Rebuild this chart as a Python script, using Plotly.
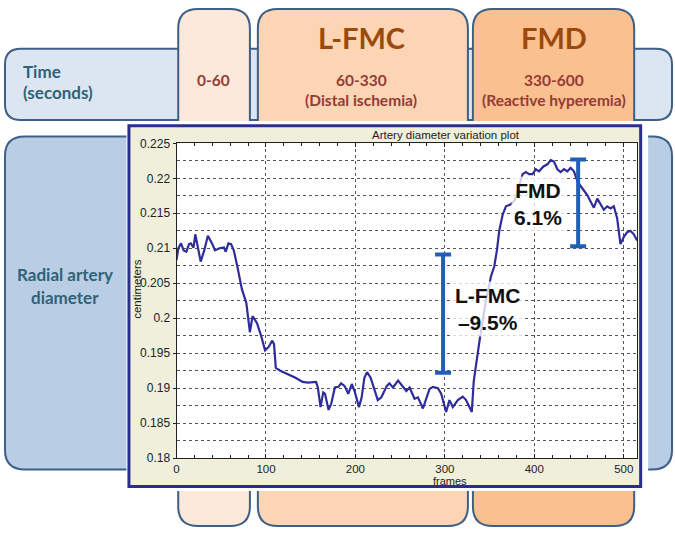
import plotly.graph_objects as go

W, H = 675, 535

# ---------------- data ----------------
frames = [0, 2, 5, 8, 11, 14, 16, 19, 21, 24, 27, 31, 35, 40, 43, 48, 53, 55, 58, 61,
          64, 68, 73, 78, 80, 82, 85, 90, 95, 99, 103, 107, 109, 111, 116, 125, 133, 141,
          147, 156, 158, 161, 164, 166, 170, 173, 177, 181, 184, 188, 192, 196, 199, 204,
          207, 210, 213, 217, 222, 225, 229, 235, 238, 242, 247.7, 253.2, 256.9, 260.6,
          266.1, 269.9, 275.5, 279.2, 282.9, 286.6, 292.2, 295.9, 298.9, 301.4, 305.1,
          308.9, 314.5, 320, 323.7, 327.4, 330.1, 332.3, 334.9, 337.4, 339.6, 342.3, 346,
          347.9, 351.6, 355.2, 358.2, 360.8, 364.6, 368.3, 373.8, 378.3, 383.1, 386.9,
          390.5, 394.2, 398, 401.7, 405.3, 410.2, 414.7, 418.4, 422, 425.8, 429.5, 433.2,
          437, 440.6, 444.3, 448.1, 451.8, 455.4, 459.2, 462.9, 466.6, 470.4, 474, 477.7,
          481.5, 485.2, 488.9, 492.6, 496.3, 500, 503.8, 507.5, 511.2, 515]
diameter_cm = [0.2083, 0.2100, 0.2107, 0.2097, 0.2095, 0.2106, 0.2107, 0.2101, 0.2120,
               0.2100, 0.2081, 0.2097, 0.2118, 0.2106, 0.2097, 0.2100, 0.2101, 0.2095,
               0.2107, 0.2106, 0.2097, 0.2074, 0.2042, 0.2022, 0.2003, 0.1980, 0.2003,
               0.1993, 0.1973, 0.1954, 0.1959, 0.1968, 0.1963, 0.1929, 0.1925, 0.1920,
               0.1915, 0.1909, 0.1908, 0.1909, 0.1901, 0.1873, 0.1894, 0.1892, 0.1869,
               0.1878, 0.1901, 0.1902, 0.1907, 0.1903, 0.1892, 0.1906, 0.1896, 0.1873,
               0.1887, 0.1915, 0.1923, 0.1915, 0.1896, 0.1883, 0.1887, 0.1903, 0.1907,
               0.1901, 0.1911, 0.1903, 0.1896, 0.1901, 0.1885, 0.1887, 0.1871, 0.1885,
               0.1899, 0.1902, 0.1900, 0.1892, 0.1878, 0.1866, 0.1883, 0.1873, 0.1883,
               0.1888, 0.1883, 0.1873, 0.1866, 0.1910, 0.1938, 0.1956, 0.1975, 0.1998,
               0.2026, 0.2037, 0.2060, 0.2074, 0.2097, 0.2125, 0.2148, 0.2160, 0.2163,
               0.2169, 0.2189, 0.2206, 0.2209, 0.2206, 0.2206, 0.2213, 0.2210, 0.2217,
               0.2220, 0.2226, 0.2224, 0.2213, 0.2209, 0.2213, 0.2210, 0.2215, 0.2210,
               0.2196, 0.2189, 0.2183, 0.2176, 0.2167, 0.2158, 0.2171, 0.2162, 0.2155,
               0.2160, 0.2157, 0.2160, 0.2143, 0.2106, 0.2116, 0.2123, 0.2125, 0.2120,
               0.2111]

x_tick_vals = [0, 100, 200, 300, 400, 500]
x_tick_text = ["0", "100", "200", "300", "400", "500"]
y_tick_vals = [0.18, 0.185, 0.19, 0.195, 0.2, 0.205, 0.21, 0.215, 0.22, 0.225]
y_tick_text = ["0.18", "0.185", "0.19", "0.195", "0.2", "0.205", "0.21", "0.215", "0.22", "0.225"]

bar_frames = [298, 449]
bar_low = [0.1922, 0.2103]
bar_high = [0.2091, 0.2227]
bar_labels = ["L-FMC<br>\u20139.5%", "FMD<br>6.1%"]
label_frames = [348, 404]
label_diam = [0.2013, 0.2163]

phase_titles = ["", "L-FMC", "FMD"]
phase_times = ["0-60", "60-330", "330-600"]
phase_notes = ["", "(Distal ischemia)", "(Reactive hyperemia)"]

# ---------------- helpers ----------------
def X(px):
    return px / W

def Y(py):
    return 1 - py / H

def rr_path(x0, y0, x1, y1, r):
    pts = [
        ("M", [(x0 + r, y0)]), ("L", [(x1 - r, y0)]), ("Q", [(x1, y0), (x1, y0 + r)]),
        ("L", [(x1, y1 - r)]), ("Q", [(x1, y1), (x1 - r, y1)]), ("L", [(x0 + r, y1)]),
        ("Q", [(x0, y1), (x0, y1 - r)]), ("L", [(x0, y0 + r)]), ("Q", [(x0, y0), (x0 + r, y0)]),
    ]
    s = ""
    for cmd, ps in pts:
        s += cmd + " " + " ".join(f"{X(a):.5f},{Y(b):.5f}" for a, b in ps) + " "
    return s + "Z"

BORDER = "#3e5f88"
shapes = []
def add_rr(x0, y0, x1, y1, r, fill):
    shapes.append(dict(type="path", xref="paper", yref="paper", layer="below",
                       path=rr_path(x0, y0, x1, y1, r), fillcolor=fill,
                       line=dict(color=BORDER, width=2)))

# background boxes
add_rr(2, 43, 672, 116, 16, "#dce6f2")      # time row
add_rr(2, 133, 672, 475, 20, "#b9cde5")     # radial artery row
col_x = [(176, 248), (256, 467), (472, 634)]
col_fill = ["#fde9d9", "#fcd5b5", "#fac090"]
for (a, b), f in zip(col_x, col_fill):
    add_rr(a, 2, b, 533, 20, f)

# white margin around the inset, inset frame, plot area
shapes.append(dict(type="rect", xref="paper", yref="paper", layer="below",
                   x0=X(124), x1=X(648), y0=Y(497), y1=Y(117),
                   fillcolor="white", line=dict(width=0)))
shapes.append(dict(type="rect", xref="paper", yref="paper", layer="below",
                   x0=X(126.5), x1=X(640.5), y0=Y(492.5), y1=Y(122),
                   fillcolor="#efefdc", line=dict(color="#2b2e8e", width=3)))
shapes.append(dict(type="rect", xref="paper", yref="paper", layer="below",
                   x0=X(174.3), x1=X(637), y0=Y(463.3), y1=Y(140),
                   fillcolor="white", line=dict(width=0)))

# ---------------- traces ----------------
fig = go.Figure()
fig.add_trace(go.Scatter(x=frames, y=diameter_cm, mode="lines",
                         line=dict(color="#2f2c9c", width=2.2),
                         hoverinfo="skip", showlegend=False))
fig.add_trace(go.Scatter(
    x=bar_frames, y=[(l + h) / 2 for l, h in zip(bar_low, bar_high)], mode="markers",
    marker=dict(size=1, color="rgba(0,0,0,0)"),
    error_y=dict(type="data", symmetric=True,
                 array=[(h - l) / 2 for l, h in zip(bar_low, bar_high)],
                 thickness=4, width=8, color="#1f5fb8"),
    hoverinfo="skip", showlegend=False))

# ---------------- annotations ----------------
TEAL = "#2f6378"
RED = "#963a35"
BROWN = "#9a4a0c"
ann = []
def txt(text, x, y, size, color, family="Lato", bold=True, xanchor="center", **kw):
    ann.append(dict(text=text, x=X(x), y=Y(y), xref="paper", yref="paper",
                    xanchor=xanchor, yanchor="middle", showarrow=False,
                    font=dict(family=family, size=size, color=color,
                              weight="bold" if bold else "normal"), **kw))

txt("Time", 18, 66, 17, TEAL, xanchor="left")
txt("(seconds)", 18, 88, 17, TEAL, xanchor="left")
txt("Radial artery", 62, 275, 17, TEAL)
txt("diameter", 62, 298, 17, TEAL)

col_centers = [211, 360, 553]
for i, cx in enumerate(col_centers):
    if phase_titles[i]:
        txt(phase_titles[i], cx, 31, 29, BROWN)
    txt(phase_times[i], cx, 75, 15.5, RED)
    if phase_notes[i]:
        txt(phase_notes[i], cx, 96, 15.5, RED)

# chart texts
CF = "Liberation Sans"
txt("Artery diameter variation plot", 445, 131, 11.5, "#222", family=CF, bold=False)
txt("frames", 449, 486.5, 11, "#222", family=CF, bold=False)
txt("centimeters", 135, 289, 11.5, "#222", family=CF, bold=False, textangle=-90)

for t, fx, fy in zip(bar_labels, label_frames, label_diam):
    ann.append(dict(text=t, x=fx, y=fy, xref="x", yref="y", showarrow=False,
                    xanchor="center", yanchor="middle",
                    bgcolor="rgba(255,255,255,0.78)", borderpad=2,
                    font=dict(family=CF, size=21, color="#111", weight="bold")))

GRID = "#555555"
fig.update_layout(
    width=W, height=H, margin=dict(l=0, r=0, t=0, b=0),
    paper_bgcolor="white", plot_bgcolor="rgba(0,0,0,0)",
    shapes=shapes, annotations=ann, showlegend=False,
    xaxis=dict(domain=[X(174.3), X(637)], range=[0, 515], anchor="y",
               tickmode="array", tickvals=x_tick_vals, ticktext=x_tick_text,
               ticks="inside", ticklen=4, tickcolor="#222", ticklabelstandoff=0,
               showline=True, linecolor="#222", linewidth=1, mirror="ticks",
               showgrid=True, gridcolor=GRID, griddash="dot", gridwidth=1,
               zeroline=False,
               tickfont=dict(family=CF, size=11.5, color="#222"),
               minor=dict(dtick=20, tick0=0, ticks="inside", ticklen=3,
                          tickcolor="#222", showgrid=False)),
    yaxis=dict(domain=[Y(463.3), Y(140)], range=[0.18, 0.225], anchor="x",
               tickmode="array", tickvals=y_tick_vals, ticktext=y_tick_text,
               ticks="outside", ticklen=3, tickcolor="#222",
               showline=True, linecolor="#222", linewidth=1, mirror=True,
               showgrid=True, gridcolor=GRID, griddash="dot", gridwidth=1,
               zeroline=False,
               tickfont=dict(family=CF, size=12, color="#222"),
               minor=dict(dtick=0.0025, tick0=0.18, showgrid=True,
                          gridcolor=GRID, griddash="dot", gridwidth=1)),
)

fig.write_html("out.html", config={"displayModeBar": False},
               post_script="document.body.style.margin='0';document.body.style.padding='0';")
